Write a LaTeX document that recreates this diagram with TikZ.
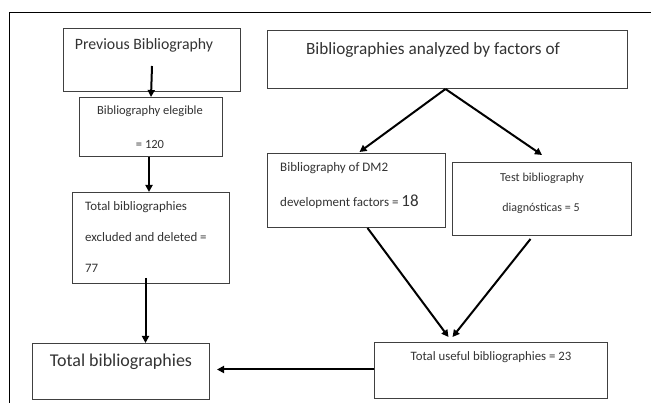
\documentclass[tikz,border=0pt]{standalone}
\usepackage{fontspec}
\setmainfont{Carlito}
\usetikzlibrary{arrows.meta,calc}
\definecolor{txtc}{HTML}{333333}
\definecolor{boxc}{HTML}{404040}
\tikzset{
  box/.style={draw=boxc, line width=1pt, rectangle, inner sep=0pt, anchor=north west},
  arr/.style={draw=black, line width=2pt, -{Triangle[length=7pt,width=7pt]}},
  txt/.style={text=txtc, inner sep=0pt},
  big/.style={font=\fontsize{18}{20}\selectfont},
  mid/.style={font=\fontsize{12.9}{15}\selectfont},
  sml/.style={font=\fontsize{12.5}{15}\selectfont},
  frameline/.style={draw=black, line width=1pt}
}
\begin{document}
\begin{tikzpicture}[x=1pt,y=-1pt]
\useasboundingbox (0,0) rectangle (651,403);
\fill[white] (0,0) rectangle (651,403);
\draw[frameline] (9,403) -- (9,12.5) -- (651,12.5);

% boxes
\node[box, minimum width=177pt, minimum height=63pt] (prev) at (63,28) {};
\node[box, minimum width=143pt, minimum height=59pt] (eleg) at (79,97) {};
\node[box, minimum width=157pt, minimum height=91pt] (excl) at (72,192) {};
\node[box, minimum width=177pt, minimum height=56pt] (total) at (32,343) {};
\node[box, minimum width=360pt, minimum height=58pt] (anal) at (267,30) {};
\node[box, minimum width=178pt, minimum height=74pt] (dm) at (267,153) {};
\node[box, minimum width=179pt, minimum height=73pt] (test) at (452,162) {};
\node[box, minimum width=233pt, minimum height=56pt] (useful) at (374,342) {};

% texts
\node[txt, font=\fontsize{15.8}{18}\selectfont] (tprev) at (144,45) {Previous Bibliography};
\node[txt, sml] (telega) at (150,111) {Bibliography elegible};
\node[txt, sml] (telegb) at (150,144) {= 120};
\node[txt, mid, anchor=west] (texa) at (85,207) {Total bibliographies};
\node[txt, mid, anchor=west] (texb) at (85,237) {excluded and deleted =};
\node[txt, mid, anchor=west] (texc) at (85,268) {77};
\node[txt, big] (ttot) at (121,362) {Total bibliographies};
\node[txt, font=\fontsize{17.2}{20}\selectfont] (tanal) at (433,50) {Bibliographies analyzed by factors of};
\node[txt, font=\fontsize{13}{15}\selectfont, anchor=west] (tdma) at (280,168) {Bibliography of DM2};
\node[txt, font=\fontsize{13}{15}\selectfont, anchor=base west] (tdmb) at (280,206.5) {development factors = {\fontsize{17}{20}\selectfont 18}};
\node[txt, font=\fontsize{12.2}{14}\selectfont] (ttesta) at (542,178) {Test bibliography};
\node[txt, font=\fontsize{12}{14}\selectfont] (ttestb) at (541,208) {diagnósticas = 5};
\node[txt, font=\fontsize{12.8}{15}\selectfont] (tuse) at (491,357) {Total useful bibliographies = 23};

% connectors
\coordinate (apex) at ($(anal.south)+(-2,0)$);
\draw[arr] ($(prev.south)+(0,-26)$) -- (eleg.north);
\draw[arr] ($(eleg.south)+(-2,0)$) -- ($(eleg.south |- excl.north)+(-2,0)$);
\draw[arr] ($(excl.south)+(-5.5,-6)$) -- ($(excl.south |- total.north)+(-5.5,0)$);
\draw[arr] (apex) -- ($(dm.north)+(3,-1)$);
\draw[arr] (apex) -- ($(test.north)+(0,-7)$);
\draw[arr] ($(dm.south)+(11,0)$) -- ($(useful.north)+(-42.5,-5)$);
\draw[arr] ($(test.south)+(-11.5,3)$) -- ($(useful.north)+(-38.5,-5)$);
\draw[arr] ($(useful.west)+(0,-1)$) -- ($(useful.west -| total.east)+(7,-1)$);
\end{tikzpicture}
\end{document}
